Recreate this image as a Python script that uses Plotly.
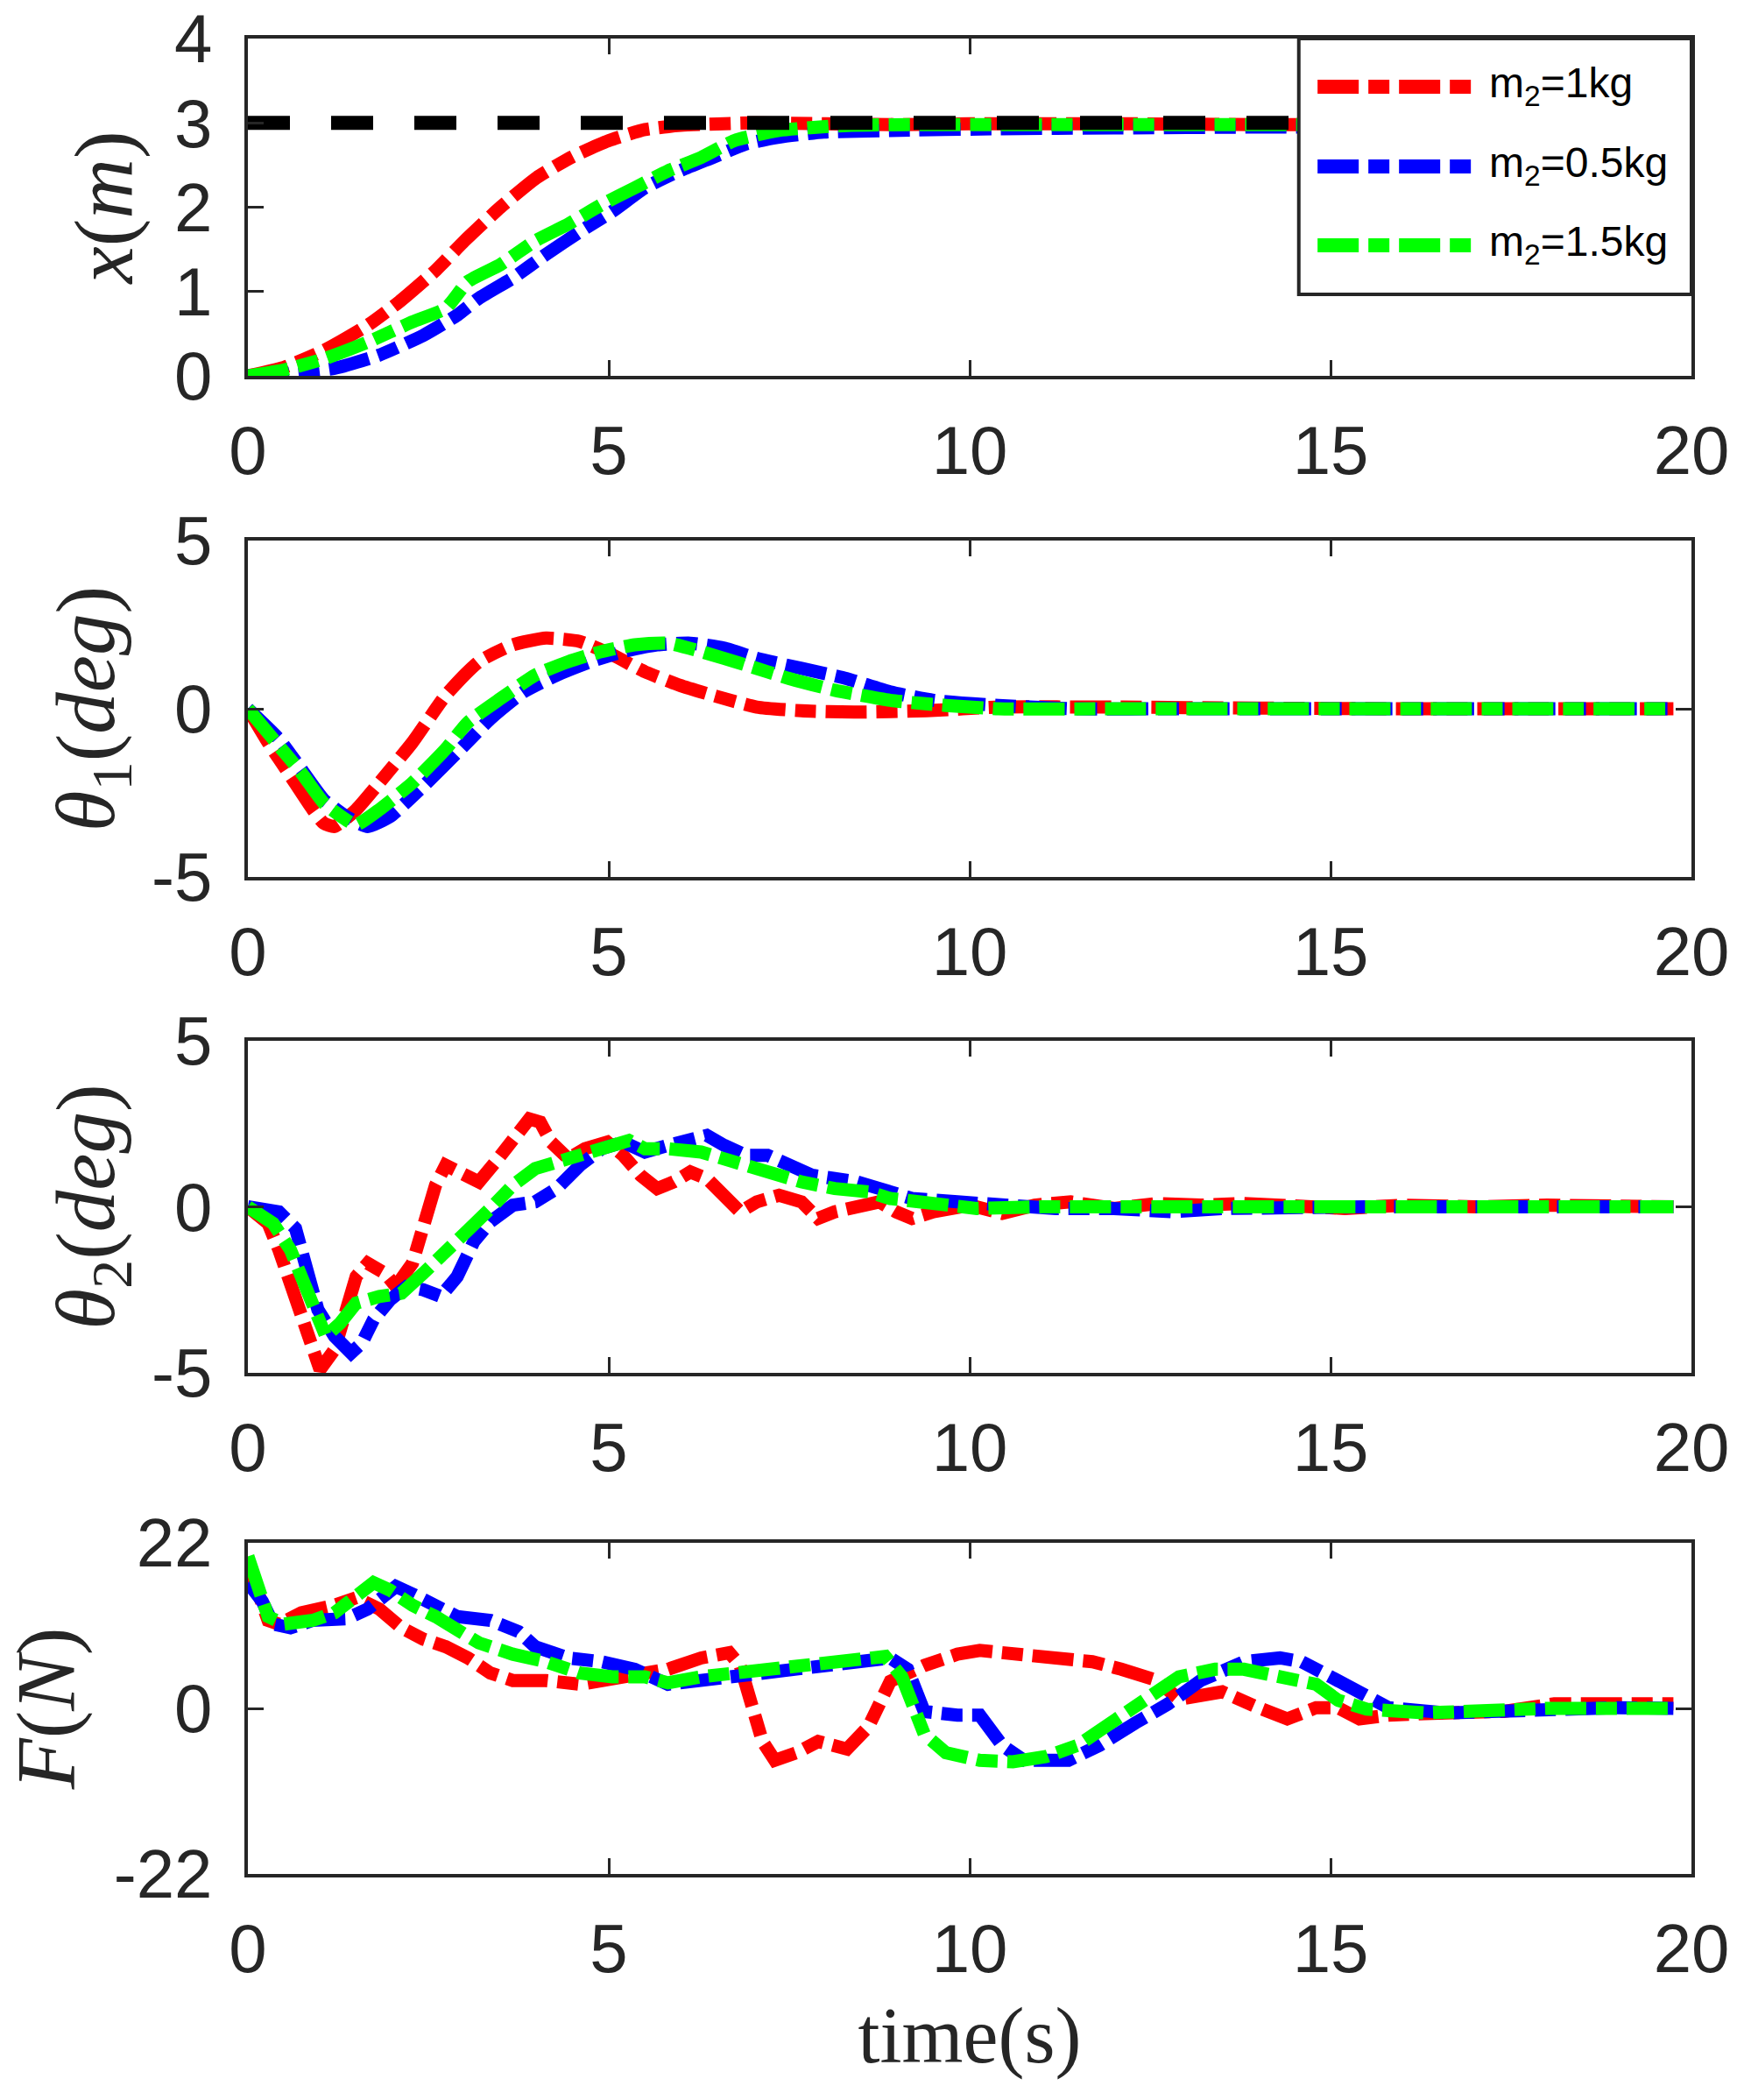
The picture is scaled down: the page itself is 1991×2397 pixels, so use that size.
import plotly.graph_objects as go
from plotly.subplots import make_subplots

# ---------------- data ----------------
series_names = ["m<sub>2</sub>=1kg", "m<sub>2</sub>=0.5kg", "m<sub>2</sub>=1.5kg"]
series_colors = ["#ff0000", "#0000ff", "#00ff00"]

ref_t = [0, 20]
ref_x = [3, 3]

# panel 1: x(m)
t1_red = [0, 0.5, 1.05, 1.66, 2.1, 2.6, 3.0, 3.5, 4.0, 4.5, 5.0, 5.5, 6.0, 7.0, 8, 9, 10, 12, 14, 16, 18, 19.75]
x_red = [0, 0.1, 0.3, 0.6, 0.88, 1.25, 1.6, 2.0, 2.35, 2.6, 2.79, 2.92, 2.97, 3.0, 2.99, 2.98, 2.99, 2.99, 2.98, 2.98, 2.98, 2.98]
t1_blue = [0, 0.6, 1.2, 1.8, 2.43, 2.9, 3.2, 3.67, 4.13, 4.6, 5.05, 5.5, 5.98, 6.44, 6.9, 7.36, 7.98, 8.9, 10.4, 12, 14, 16, 18, 19.75]
x_blue = [0, 0.03, 0.09, 0.24, 0.48, 0.72, 0.92, 1.16, 1.44, 1.71, 1.95, 2.23, 2.43, 2.59, 2.75, 2.83, 2.89, 2.91, 2.93, 2.94, 2.95, 2.95, 2.95, 2.95]
t1_green = [0, 0.5, 1.05, 1.66, 2.28, 2.74, 3.05, 3.5, 3.98, 4.44, 4.9, 5.36, 5.82, 6.28, 6.74, 7.36, 8.3, 9.5, 11, 13, 15, 17, 19.75]
x_green = [0, 0.07, 0.2, 0.4, 0.64, 0.8, 1.12, 1.32, 1.6, 1.8, 2.03, 2.23, 2.43, 2.59, 2.79, 2.91, 2.97, 2.98, 2.98, 2.98, 2.98, 2.98, 2.98]

# panel 2: theta1 (deg)
t2_red = [0, 0.28, 0.59, 0.9, 1.05, 1.2, 1.5, 1.82, 2.28, 2.74, 3.2, 3.67, 4.13, 4.6, 5.05, 5.5, 5.98, 6.44, 7.05, 7.67, 8.4, 9.4, 10.4, 12, 14, 16, 18, 19.75]
th1_red = [0, -1.0, -2.0, -3.0, -3.4, -3.5, -3.0, -2.2, -1.0, 0.4, 1.4, 1.9, 2.1, 2.0, 1.6, 1.1, 0.7, 0.4, 0.05, -0.06, -0.1, -0.06, 0.05, 0.05, 0.02, 0, 0, 0]
t2_blue = [0, 0.43, 0.74, 1.05, 1.36, 1.66, 1.97, 2.43, 2.9, 3.36, 3.82, 4.28, 4.75, 5.2, 5.67, 6.13, 6.6, 7.05, 7.67, 8.29, 8.9, 9.5, 10.4, 11.4, 13, 15, 17, 19.75]
th1_blue = [0, -0.9, -1.8, -2.7, -3.2, -3.5, -3.2, -2.3, -1.3, -0.3, 0.5, 1.0, 1.4, 1.7, 1.9, 1.95, 1.8, 1.5, 1.2, 0.9, 0.5, 0.25, 0.1, 0, 0, 0, 0, 0]
t2_green = [0, 0.35, 0.74, 1.05, 1.36, 1.5, 1.82, 2.28, 2.74, 3.05, 3.5, 3.98, 4.44, 4.9, 5.36, 5.82, 6.28, 6.9, 7.5, 8.13, 8.9, 9.67, 10.4, 12, 14, 16, 18, 19.75]
th1_green = [0, -0.9, -1.9, -2.8, -3.3, -3.45, -3.0, -2.2, -1.2, -0.4, 0.3, 1.0, 1.4, 1.7, 1.9, 1.95, 1.7, 1.3, 0.9, 0.55, 0.25, 0.1, 0, 0, 0, 0, 0, 0]

# panel 3: theta2 (deg)
t3_red = [0, 0.28, 0.43, 0.59, 0.74, 0.9, 1.0, 1.2, 1.36, 1.5, 1.66, 1.9, 2.05, 2.28, 2.43, 2.6, 2.74, 2.97, 3.2, 3.43, 3.67, 3.9, 4.05, 4.2, 4.44, 4.67, 4.98, 5.2, 5.44, 5.67, 5.9, 6.13, 6.36, 6.6, 6.82, 7.05, 7.36, 7.67, 7.9, 8.13, 8.44, 8.75, 8.98, 9.2, 9.5, 10.0, 10.45, 10.9, 11.4, 12.0, 12.6, 13.2, 13.8, 14.5, 15.2, 16, 17, 18, 19, 19.75]
th2_red = [0, -0.5, -1.3, -2.3, -3.3, -4.3, -4.9, -4.3, -3.1, -2.1, -1.7, -2.0, -2.4, -1.7, -0.6, 0.65, 1.25, 1.05, 0.75, 1.35, 2.05, 2.65, 2.55, 1.95, 1.45, 1.75, 1.95, 1.55, 0.95, 0.55, 0.75, 1.05, 0.85, 0.25, -0.15, 0.15, 0.35, 0.15, -0.35, -0.15, 0.05, 0.15, -0.15, -0.35, -0.15, 0.05, -0.2, 0.05, 0.15, -0.05, 0.1, 0.05, 0.1, 0.05, -0.05, 0.05, 0.0, 0.05, 0.0, 0.0]
t3_blue = [0, 0.43, 0.66, 0.82, 0.97, 1.2, 1.43, 1.58, 1.74, 1.97, 2.2, 2.43, 2.67, 2.9, 3.13, 3.36, 3.67, 3.98, 4.28, 4.6, 4.9, 5.2, 5.5, 5.82, 6.13, 6.36, 6.6, 6.9, 7.2, 7.5, 7.82, 8.13, 8.44, 8.75, 9.2, 9.83, 10.4, 11.2, 12, 12.8, 13.5, 14.5, 15.5, 16.5, 17.5, 18.5, 19.75]
th2_blue = [0, -0.15, -0.65, -1.85, -3.1, -3.9, -4.4, -4.1, -3.4, -2.8, -2.4, -2.5, -2.7, -2.1, -1.05, -0.45, 0.05, 0.15, 0.55, 1.25, 1.75, 1.95, 1.65, 1.85, 2.05, 2.15, 1.85, 1.55, 1.55, 1.25, 0.95, 0.85, 0.75, 0.55, 0.25, 0.15, 0.05, -0.05, -0.05, -0.15, -0.05, 0.0, 0.0, 0.0, 0.0, 0.0, 0.0]
t3_green = [0, 0.35, 0.59, 0.74, 0.9, 1.08, 1.28, 1.5, 1.82, 2.13, 2.43, 2.74, 3.05, 3.36, 3.67, 3.98, 4.28, 4.6, 4.98, 5.28, 5.5, 5.82, 6.28, 6.74, 7.2, 7.67, 8.13, 8.6, 8.9, 9.5, 10.1, 11, 12, 13, 14, 15, 16, 17, 18, 19, 19.75]
th2_green = [0, -0.5, -1.3, -2.1, -3.1, -3.9, -3.5, -2.9, -2.7, -2.6, -2.0, -1.3, -0.7, -0.05, 0.65, 1.15, 1.35, 1.55, 1.85, 2.0, 1.75, 1.75, 1.65, 1.35, 1.05, 0.75, 0.55, 0.45, 0.25, 0.05, -0.05, 0.0, 0.0, 0.0, 0.0, 0.0, 0.0, 0.0, 0.0, 0.0, 0.0]

# panel 4: F (N)
t4_red = [0, 0.1, 0.28, 0.43, 0.74, 1.2, 1.5, 1.82, 2.13, 2.43, 2.74, 3.05, 3.36, 3.67, 4.13, 4.6, 4.9, 5.36, 5.82, 6.28, 6.67, 6.82, 6.98, 7.13, 7.3, 7.6, 7.9, 8.3, 8.6, 8.9, 9.37, 9.83, 10.14, 10.6, 11.2, 11.7, 12.1, 12.6, 12.9, 13.2, 13.5, 14.0, 14.4, 14.8, 15.1, 15.4, 15.8, 16.6, 17.4, 18.1, 18.9, 19.75]
F_red = [19.2, 16.7, 11.7, 11.2, 12.7, 13.7, 14.7, 13.2, 10.7, 9.2, 8.2, 6.7, 4.7, 3.7, 3.7, 3.2, 3.7, 4.2, 5.2, 6.7, 7.4, 5.7, 0.6, -4.4, -6.9, -5.9, -4.4, -5.4, -2.4, 3.6, 5.7, 7.2, 7.7, 7.2, 6.9, 6.2, 5.2, 3.7, 1.2, 1.7, 2.2, 0.1, -1.4, 0.1, 0.1, -1.4, -0.9, -0.6, -0.4, 0.6, 0.4, 0.6]
t4_blue = [0, 0.2, 0.35, 0.59, 0.9, 1.36, 1.66, 2.05, 2.28, 2.6, 2.9, 3.36, 3.75, 3.98, 4.44, 4.9, 5.36, 5.82, 6.28, 6.74, 7.2, 7.67, 8.3, 8.9, 9.14, 9.37, 9.83, 10.14, 10.45, 10.75, 11.37, 11.8, 12.3, 12.75, 13.2, 13.8, 14.3, 14.6, 15.0, 15.3, 15.8, 16.6, 17.3, 18, 19, 19.75]
F_blue = [16.7, 14.2, 11.2, 10.7, 11.7, 11.9, 13.2, 16.2, 15.2, 13.7, 12.2, 11.7, 10.2, 8.2, 6.7, 6.2, 5.2, 3.2, 3.7, 4.2, 4.7, 5.2, 5.7, 6.7, 5.2, -0.4, -0.9, -0.9, -4.9, -6.9, -6.9, -4.9, -1.9, 0.6, 3.7, 6.2, 6.7, 6.2, 4.2, 2.6, 0.1, -0.6, -0.3, 0.0, 0.1, 0.0]
t4_green = [0, 0.1, 0.28, 0.5, 0.9, 1.2, 1.5, 1.74, 1.97, 2.28, 2.6, 2.9, 3.2, 3.67, 4.13, 4.6, 5.05, 5.5, 5.82, 6.28, 6.74, 7.36, 7.98, 8.6, 8.83, 9.06, 9.2, 9.37, 9.67, 10.14, 10.6, 11.06, 11.5, 12.0, 12.5, 12.9, 13.4, 13.8, 14.3, 14.8, 15.1, 15.5, 16.3, 17.2, 18, 19, 19.75]
F_green = [20.2, 17.7, 12.2, 11.2, 11.7, 12.7, 15.2, 16.7, 15.7, 13.7, 12.2, 10.2, 8.7, 7.2, 6.2, 4.7, 4.2, 4.2, 3.4, 4.2, 4.7, 5.7, 6.2, 6.7, 6.9, 4.2, 0.6, -3.4, -5.9, -6.9, -7.1, -6.4, -4.9, -1.4, 1.6, 4.2, 5.2, 5.2, 4.2, 3.2, 1.1, -0.1, -0.6, -0.1, 0.0, 0.0, 0.0]

x_ticks = [0, 5, 10, 15, 20]
y_ticks = [[0, 1, 2, 3, 4], [-5, 0, 5], [-5, 0, 5], [-22, 0, 22]]
y_ticktext = [["0", "1", "2", "3", "4"], ["-5", "0", "5"], ["-5", "0", "5"], ["-22", "0", "22"]]
y_ranges = [[0, 4], [-5, 5], [-5, 5], [-22, 22]]
y_titles = ["<i>x</i>(<i>m</i>)",
            "<i>θ</i><sub>1</sub>(<i>deg</i>)",
            "<i>θ</i><sub>2</sub>(<i>deg</i>)",
            "<i>F</i>(<i>N</i>)"]
x_title = "time(s)"

panels = [
    [(t1_red, x_red), (t1_blue, x_blue), (t1_green, x_green)],
    [(t2_red, th1_red), (t2_blue, th1_blue), (t2_green, th1_green)],
    [(t3_red, th2_red), (t3_blue, th2_blue), (t3_green, th2_green)],
    [(t4_red, F_red), (t4_blue, F_blue), (t4_green, F_green)],
]

# ---------------- figure ----------------
W, H = 1991, 2397
AX = "#262626"
DASHDOT = "47px,11px,24px,11px"
LW = 15

fig = make_subplots(rows=4, cols=1)

smooth = [True, True, False, False]
for p, series in enumerate(panels):
    for s, (tt, vv) in enumerate(series):
        fig.add_trace(go.Scatter(
            x=tt, y=vv, mode="lines", name=series_names[s], showlegend=False,
            line=dict(color=series_colors[s], width=LW, dash=DASHDOT,
                      shape="spline" if smooth[p] else "linear", smoothing=0.5),
        ), row=p + 1, col=1)
    if p == 0:
        fig.add_trace(go.Scatter(
            x=ref_t, y=ref_x, mode="lines", showlegend=False,
            line=dict(color="#000000", width=16, dash="48px,47px"),
        ), row=1, col=1)

# domains (pixel-derived)
top, bot = 44, 2139
ph = bot - top
pix = [(44, 429), (617, 1001), (1188, 1567), (1761, 2139)]
for i, (a, b) in enumerate(pix):
    dom = [(bot - b) / ph, (bot - a) / ph]
    xa = "xaxis" if i == 0 else f"xaxis{i+1}"
    ya = "yaxis" if i == 0 else f"yaxis{i+1}"
    fig.layout[ya].domain = dom
    fig.layout[xa].update(
        range=[0, 20], tickvals=x_ticks, ticktext=[str(v) for v in x_ticks],
        ticks="inside", ticklen=18, tickwidth=3, tickcolor=AX,
        showline=True, linewidth=4, linecolor=AX, mirror="ticks",
        showgrid=False, zeroline=False, ticklabelstandoff=14,
        tickfont=dict(family="Liberation Sans", size=78, color=AX),
    )
    fig.layout[ya].update(
        range=y_ranges[i], tickvals=y_ticks[i], ticktext=y_ticktext[i],
        ticks="inside", ticklen=18, tickwidth=3, tickcolor=AX,
        showline=True, linewidth=4, linecolor=AX, mirror="ticks",
        showgrid=False, zeroline=False, ticklabelstandoff=21,
        tickfont=dict(family="Liberation Sans", size=78, color=AX),
        title=dict(text=y_titles[i], standoff=12 if i in (1, 2) else 17,
                   font=dict(family="Liberation Serif", size=95, color=AX)),
    )

fig.layout["xaxis4"].title = dict(text=x_title, standoff=25,
                                  font=dict(family="Liberation Serif", size=90, color=AX))

# legend (drawn as shapes/annotations in subplot 1 domain)
lx0, lx1, ly0, ly1 = 0.728, 1.0, 0.2416, 1.0
shapes = [dict(type="rect", xref="x domain", yref="y domain", x0=lx0, x1=lx1, y0=ly0, y1=ly1,
               fillcolor="white", line=dict(color=AX, width=4), layer="above")]
row_y = [0.857, 0.621, 0.387]
annotations = []
for s in range(3):
    shapes.append(dict(type="line", xref="x domain", yref="y domain",
                       x0=0.741, x1=0.8477, y0=row_y[s], y1=row_y[s],
                       line=dict(color=series_colors[s], width=16, dash=DASHDOT), layer="above"))
    annotations.append(dict(xref="x domain", yref="y domain", x=0.8586, y=row_y[s] + 0.002,
                            xanchor="left", yanchor="middle", showarrow=False,
                            text=series_names[s],
                            font=dict(family="Liberation Sans", size=48, color="#000000")))

fig.update_layout(
    width=W, height=H, template=None,
    paper_bgcolor="white", plot_bgcolor="white",
    margin=dict(l=283, r=60, t=44, b=258),
    shapes=shapes, annotations=annotations, showlegend=False,
)

fig.write_html("out.html", config={"displayModeBar": False},
               post_script="document.body.style.margin='0';document.body.style.padding='0';")
